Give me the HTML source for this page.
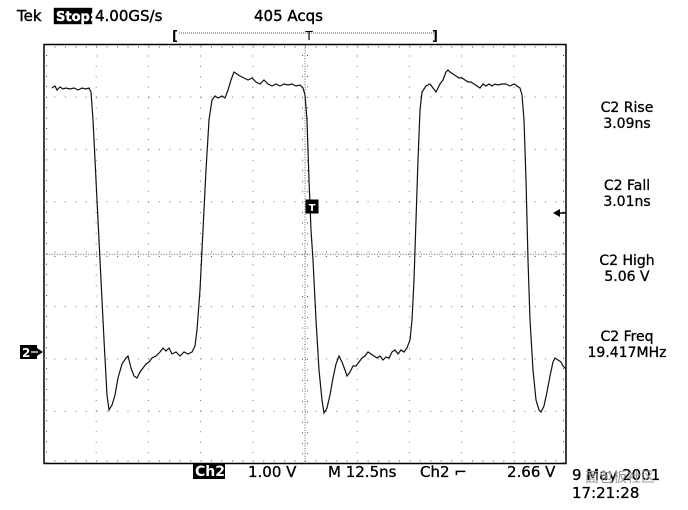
<!DOCTYPE html>
<html><head><meta charset="utf-8"><style>
body{margin:0;background:#fff;width:688px;height:510px;overflow:hidden;font-family:"DejaVu Sans","Liberation Sans",sans-serif;}
svg{position:absolute;left:0;top:0}
</style></head><body>
<svg width="688" height="510" viewBox="0 0 688 510" font-family="DejaVu Sans, Liberation Sans, sans-serif">
<rect x="44" y="44.5" width="522" height="419" fill="none" stroke="#000" stroke-width="1.5"/>
<g stroke="#777" stroke-width="1" stroke-dasharray="1,9.44">
<line x1="96.2" y1="45" x2="96.2" y2="463"/><line x1="148.4" y1="45" x2="148.4" y2="463"/>
<line x1="200.6" y1="45" x2="200.6" y2="463"/><line x1="252.8" y1="45" x2="252.8" y2="463"/>
<line x1="357.2" y1="45" x2="357.2" y2="463"/><line x1="409.4" y1="45" x2="409.4" y2="463"/>
<line x1="461.6" y1="45" x2="461.6" y2="463"/><line x1="513.8" y1="45" x2="513.8" y2="463"/>
</g>
<g stroke="#777" stroke-width="1" stroke-dasharray="1,9.44">
<line x1="44" y1="97" x2="566" y2="97"/><line x1="44" y1="149.4" x2="566" y2="149.4"/>
<line x1="44" y1="201.8" x2="566" y2="201.8"/><line x1="44" y1="306.6" x2="566" y2="306.6"/>
<line x1="44" y1="359" x2="566" y2="359"/><line x1="44" y1="411.4" x2="566" y2="411.4"/>
</g>
<g stroke="#666" stroke-width="1" stroke-dasharray="1,1.6">
<line x1="44" y1="254.2" x2="566" y2="254.2"/><line x1="305" y1="45" x2="305" y2="463"/>
</g>
<!-- minor ticks -->
<g stroke="#444" stroke-width="1" stroke-dasharray="1,9.44">
<line x1="44" y1="47" x2="566" y2="47"/><line x1="44" y1="461" x2="566" y2="461"/>
<line x1="46.5" y1="44.5" x2="46.5" y2="463"/><line x1="563.5" y1="44.5" x2="563.5" y2="463"/>
</g>
<g stroke="#555" stroke-width="1">
<line x1="44" y1="252" x2="566" y2="252" stroke-dasharray="1,9.44"/>
<line x1="44" y1="256.5" x2="566" y2="256.5" stroke-dasharray="1,9.44"/>
<line x1="302.5" y1="44.5" x2="302.5" y2="463" stroke-dasharray="1,9.48"/>
<line x1="307.5" y1="44.5" x2="307.5" y2="463" stroke-dasharray="1,9.48"/>
</g>
<polyline fill="none" stroke="#111" stroke-width="1.2" points="52,88 55,86 57,90 60,87 63,89 66,88 70,89 74,88 78,90 82,88 86,89 89,88 91,92 93,120 96,180 100,260 104,340 107,395 109,410 112,405 115,395 118,378 122,364 126,358 128,356 131,368 134,376 137,378 140,372 143,368 146,364 149,362 152,358 156,356 160,352 163,348 166,351 169,348 172,354 176,352 180,356 184,352 188,354 192,352 195,346 197,330 200,290 203,230 206,170 209,120 212,100 215,96 218,98 222,96 225,98 228,90 231,80 234,72 237,74 240,76 244,78 248,80 252,78 256,82 260,84 264,80 268,84 272,86 276,84 280,86 284,84 288,85 292,84 296,86 300,85 303,88 305,95 307,120 309,180 311,230 313,260 316,320 319,370 322,400 324,413 327,408 330,395 333,378 336,364 339,356 342,362 345,370 347,376 350,372 353,366 356,366 359,362 362,358 365,356 368,352 371,354 374,356 377,358 380,356 383,360 386,357 389,358 392,352 395,350 398,354 401,350 404,352 407,348 410,340 412,320 414,280 416,220 418,160 420,110 422,92 426,86 430,84 433,88 436,92 438,88 440,84 443,80 446,72 448,70 450,72 453,74 456,76 459,78 462,78 465,80 468,82 471,82 474,84 477,86 480,88 483,84 486,86 489,84 492,86 495,84 498,85 502,84 506,84 510,86 514,84 517,86 520,88 522,95 524,120 526,180 528,260 530,320 533,370 536,400 539,410 541,412 544,406 547,392 550,376 553,362 555,358 558,360 561,362 563,366 566,369"/>
<rect x="306" y="200" width="12" height="13" fill="#000" stroke="#000"/>
<text x="312" y="211" font-size="10" fill="#fff" text-anchor="middle" font-weight="bold">T</text>
<polygon points="553,213 560,209 560,217" fill="#000"/><line x1="559" y1="213" x2="566" y2="213" stroke="#000" stroke-width="1.5"/>
<rect x="20" y="345" width="17" height="14" fill="#000"/>
<text x="22" y="357" font-size="12" fill="#fff" font-weight="bold">2</text>
<polygon points="37,348 43,352 37,356" fill="#000"/><line x1="31" y1="352" x2="38" y2="352" stroke="#fff" stroke-width="1.2"/>
<g stroke="#000" stroke-width="0.4">
<text x="17" y="21" font-size="15" fill="#000">Tek</text>
<rect x="54" y="8" width="38" height="16" fill="#000"/>
<text x="56" y="21" font-size="13" fill="#fff" stroke="#fff" font-weight="bold">Stop:</text>
<text x="95" y="21" font-size="15" fill="#000">4.00GS/s</text>
<text x="254" y="21" font-size="15" fill="#000">405 Acqs</text>
</g>
<text x="172" y="40" font-size="13" fill="#000" font-weight="bold">[</text>
<line x1="179" y1="33" x2="434" y2="33" stroke="#555" stroke-dasharray="1,1"/>
<text x="309" y="40" font-size="12" fill="#000" text-anchor="middle">T</text>
<text x="432" y="40" font-size="13" fill="#000" font-weight="bold">]</text>
<g font-size="14" fill="#000" text-anchor="middle" stroke="#000" stroke-width="0.3">
<text x="627" y="112">C2 Rise</text><text x="627" y="128">3.09ns</text>
<text x="627" y="190">C2 Fall</text><text x="627" y="206">3.01ns</text>
<text x="627" y="265">C2 High</text><text x="627" y="281">5.06 V</text>
<text x="627" y="341">C2 Freq</text><text x="627" y="357">19.417MHz</text>
</g>
<rect x="193" y="464" width="32" height="15" fill="#000"/>
<text x="195" y="476" font-size="14" fill="#fff" font-weight="bold">Ch2</text>
<g font-size="15" fill="#000" stroke="#000" stroke-width="0.3">
<text x="248" y="477">1.00 V</text>
<text x="328" y="477">M 12.5ns</text>
<text x="420" y="477">Ch2 ⌐</text>
<text x="507" y="477">2.66 V</text>
<text x="572" y="480">9 May 2001</text>
<text x="572" y="498">17:21:28</text>
</g>
<text x="585" y="482" font-size="14" fill="#999" font-family="Liberation Sans, Noto Sans CJK SC, sans-serif">面包板社区</text>
</svg>
</body></html>
